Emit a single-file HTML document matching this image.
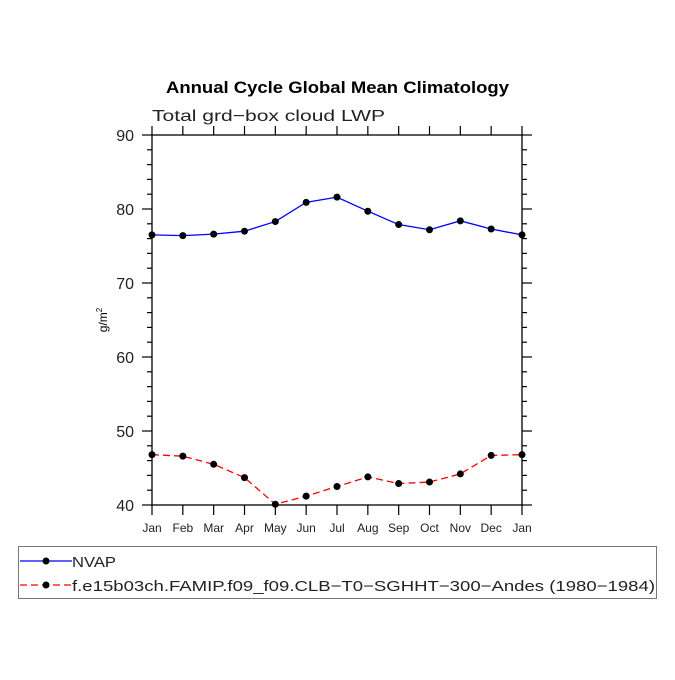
<!DOCTYPE html>
<html><head><meta charset="utf-8"><style>
body{margin:0;background:#fff;width:675px;height:675px;overflow:hidden}
svg text{font-family:"Liberation Sans",sans-serif}
</style></head><body>
<svg id="chart" width="675" height="675">
<text x="166" y="93" textLength="343" lengthAdjust="spacingAndGlyphs" font-size="17" font-weight="bold">Annual Cycle Global Mean Climatology</text>
<text x="152" y="121" textLength="233" lengthAdjust="spacingAndGlyphs" font-size="16" fill="#222">Total grd−box cloud LWP</text>
<text transform="translate(107,320) rotate(-90)" text-anchor="middle" font-size="12">g/m<tspan font-size="8" dy="-5">2</tspan></text>
<g id="axes"></g>
<g id="series"></g>
<rect x="18.5" y="546.5" width="638" height="52" fill="none" stroke="#777"/>
<g>
<line x1="20" y1="561" x2="72" y2="561" stroke="#0000ff" stroke-width="1.3"/>
<circle cx="46" cy="561" r="3.5" fill="#000"/>
<text x="72" y="567" textLength="44" lengthAdjust="spacingAndGlyphs" font-size="15" fill="#222">NVAP</text>
</g>
<g>
<line x1="20" y1="585" x2="72" y2="585" stroke="#ff0000" stroke-width="1.3" stroke-dasharray="7,4"/>
<circle cx="46" cy="585" r="3.5" fill="#000"/>
<text x="72" y="591" textLength="583" lengthAdjust="spacingAndGlyphs" font-size="15" fill="#222">f.e15b03ch.FAMIP.f09_f09.CLB−T0−SGHHT−300−Andes (1980−1984)</text>
</g>
</svg>
<script>
const months=["Jan","Feb","Mar","Apr","May","Jun","Jul","Aug","Sep","Oct","Nov","Dec","Jan"];
const nvap=[76.5,76.4,76.6,77.0,78.3,80.9,81.6,79.7,77.9,77.2,78.4,77.3,76.5];
const model=[46.8,46.6,45.5,43.7,40.1,41.2,42.5,43.8,42.9,43.1,44.2,46.7,46.8];
const yTicks=[40,50,60,70,80,90];
const X0=152,X1=522,Y0=505,Y1=135,YMIN=40,YMAX=90;
const xs=i=>X0+(X1-X0)*i/(months.length-1);
const ys=v=>Y0-(v-YMIN)/(YMAX-YMIN)*(Y0-Y1);
const NS="http://www.w3.org/2000/svg";
function mk(tag,attrs,parent){const e=document.createElementNS(NS,tag);for(const k in attrs)e.setAttribute(k,attrs[k]);parent.appendChild(e);return e;}
const ax=document.getElementById('axes'),sg=document.getElementById('series');
const frame=mk('rect',{x:X0,y:Y1,width:X1-X0,height:Y0-Y1,fill:'none',stroke:'#000','stroke-width':1.3},ax);


months.forEach((m,i)=>{const x=xs(i);
 mk('line',{x1:x,y1:Y0,x2:x,y2:Y0+10,stroke:'#000','stroke-width':1.2},ax);
 mk('line',{x1:x,y1:Y1,x2:x,y2:Y1-9,stroke:'#000','stroke-width':1.2},ax);
 const t=mk('text',{x:x,y:Y0+27,'text-anchor':'middle','font-size':12,fill:'#222'},ax);t.textContent=m;
 
 
});
for(let v=YMIN;v<=YMAX;v+=2){const y=ys(v);const major=v%10===0;const L=major?10:5;
 mk('line',{x1:X0-L,y1:y,x2:X0,y2:y,stroke:'#000','stroke-width':1.2},ax);
 mk('line',{x1:X1,y1:y,x2:X1+L,y2:y,stroke:'#000','stroke-width':1.2},ax);}
yTicks.forEach(v=>{const t=mk('text',{x:X0-18,y:ys(v)+6,'text-anchor':'end','font-size':16,fill:'#222'},ax);t.textContent=v;
 
 });
function series(vals,color,dash,name){
 const p=mk('polyline',{points:vals.map((v,i)=>xs(i)+','+ys(v)).join(' '),fill:'none',stroke:color,'stroke-width':1.3},sg);
 if(dash)p.setAttribute('stroke-dasharray',dash);
 
 
 vals.forEach((v,i)=>{const c=mk('circle',{cx:xs(i),cy:ys(v),r:3.5,fill:'#000'},sg);
  
  });
}
series(nvap,'#0000ff',null,'nvap');
series(model,'#ff0000','7,4','model');
</script>
</body></html>
